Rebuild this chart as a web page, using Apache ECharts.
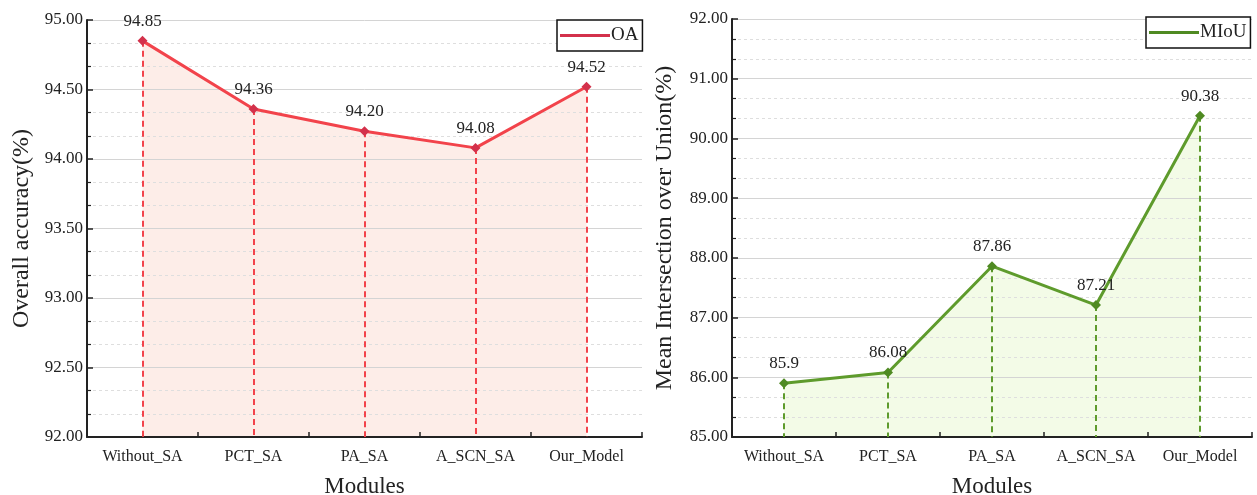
<!DOCTYPE html>
<html>
<head>
<meta charset="utf-8">
<script src="https://cdn.jsdelivr.net/npm/echarts@6/dist/echarts.min.js"></script>
<style>
  html, body { margin: 0; padding: 0; background: #fff; }
  #chart { width: 1257px; height: 495px; }
</style>
</head>
<body>
<div id="chart"></div>
<script>
// Module ablation results
const modules = ['Without_SA', 'PCT_SA', 'PA_SA', 'A_SCN_SA', 'Our_Model'];
const oaValues = [94.85, 94.36, 94.20, 94.08, 94.52];
const miouValues = [85.9, 86.08, 87.86, 87.21, 90.38];

const oaAxis = { min: 92, max: 95, interval: 0.5 };
const miouAxis = { min: 85, max: 92, interval: 1 };

const FONT = '"Liberation Serif", "DejaVu Serif", serif';
const OA_LINE = '#F2434B', OA_MARK = '#D3314B', OA_FILL = '#FDEDE8';
const MI_LINE = '#5E9B2C', MI_MARK = '#4F8A22', MI_FILL = '#F3FBE7';

function xAxisFor(gridIndex) {
  return {
    type: 'category', gridIndex, data: modules, boundaryGap: true, z: 3,
    name: 'Modules', nameLocation: 'middle', nameGap: 38,
    nameTextStyle: { fontFamily: FONT, fontSize: 23, color: '#222' },
    axisLine: { show: true, lineStyle: { color: '#222', width: 2 } },
    axisTick: { show: true, inside: true, length: 5, interval: 0, lineStyle: { color: '#222', width: 1.5 } },
    axisLabel: { fontFamily: FONT, fontSize: 16, color: '#222', margin: 12, interval: 0 },
    splitLine: { show: false }
  };
}

function yAxisFor(gridIndex, cfg, name, gap) {
  return {
    type: 'value', gridIndex, min: cfg.min, max: cfg.max, interval: cfg.interval, z: 2,
    name, nameLocation: 'middle', nameGap: gap,
    nameTextStyle: { fontFamily: FONT, fontSize: 24, color: '#222' },
    axisLine: { show: true, lineStyle: { color: '#222', width: 2 } },
    axisTick: { show: true, inside: true, length: 6, lineStyle: { color: '#222', width: 1.5 } },
    minorTick: { show: true, splitNumber: 3, length: 4, lineStyle: { color: '#222', width: 1.2 } },
    axisLabel: { fontFamily: FONT, fontSize: 17, color: '#222', margin: 4, formatter: v => v.toFixed(2) },
    splitLine: { show: true, lineStyle: { color: '#d4d4d4', width: 1 } },
    minorSplitLine: { show: true, lineStyle: { color: '#dedede', width: 1, type: [3, 3] } }
  };
}

// filled area under each curve, kept beneath the grid and drop lines
function areaFor(idx, values, fill) {
  return {
    type: 'line', name: '_area' + idx, xAxisIndex: idx, yAxisIndex: idx, data: values,
    symbol: 'none', z: 1, silent: true,
    lineStyle: { width: 0, opacity: 0 },
    areaStyle: { color: fill, opacity: 1, origin: 'start' }
  };
}

function seriesFor(idx, name, values, cfg, line, mark, fmt) {
  return {
    type: 'line', name, xAxisIndex: idx, yAxisIndex: idx, data: values,
    symbol: 'diamond', symbolSize: 10, z: 5,
    lineStyle: { color: line, width: 3 },
    itemStyle: { color: mark },
    label: { show: true, position: 'top', distance: 6, fontFamily: FONT, fontSize: 17, color: '#222', formatter: fmt },
    markLine: {
      silent: true, symbol: 'none', animation: false,
      label: { show: false },
      lineStyle: { color: line, width: 2, type: [6, 4] },
      data: values.map((v, i) => [
        { coord: [modules[i], v] },
        { coord: [modules[i], cfg.min] }
      ])
    }
  };
}

const legendBase = {
  orient: 'horizontal', icon: 'rect', itemWidth: 50, itemHeight: 3, itemGap: 4,
  borderColor: '#111', borderWidth: 1.5, backgroundColor: '#fff',
  padding: [6, 4, 6, 3],
  textStyle: { fontFamily: FONT, fontSize: 19, color: '#222', padding: [0, 0, 0, -4] }
};

const chart = echarts.init(document.getElementById('chart'), null, { renderer: 'canvas' });
chart.setOption({
  animation: false,
  backgroundColor: '#fff',
  grid: [
    { left: 87, top: 20, width: 555, height: 417, outerBoundsMode: 'none', containLabel: false },
    { left: 732, top: 19, width: 520, height: 418, outerBoundsMode: 'none', containLabel: false }
  ],
  xAxis: [xAxisFor(0), xAxisFor(1)],
  yAxis: [
    yAxisFor(0, oaAxis, 'Overall accuracy(%)', 53),
    yAxisFor(1, miouAxis, 'Mean Intersection over Union(%)', 55)
  ],
  legend: [
    Object.assign({}, legendBase, { data: ['OA'], left: 557, top: 20 }),
    Object.assign({}, legendBase, { data: ['MIoU'], left: 1146, top: 17 })
  ],
  series: [
    areaFor(0, oaValues, OA_FILL),
    areaFor(1, miouValues, MI_FILL),
    seriesFor(0, 'OA', oaValues, oaAxis, OA_LINE, OA_MARK, p => p.value.toFixed(2)),
    seriesFor(1, 'MIoU', miouValues, miouAxis, MI_LINE, MI_MARK, p => String(p.value))
  ]
});
</script>
</body>
</html>
